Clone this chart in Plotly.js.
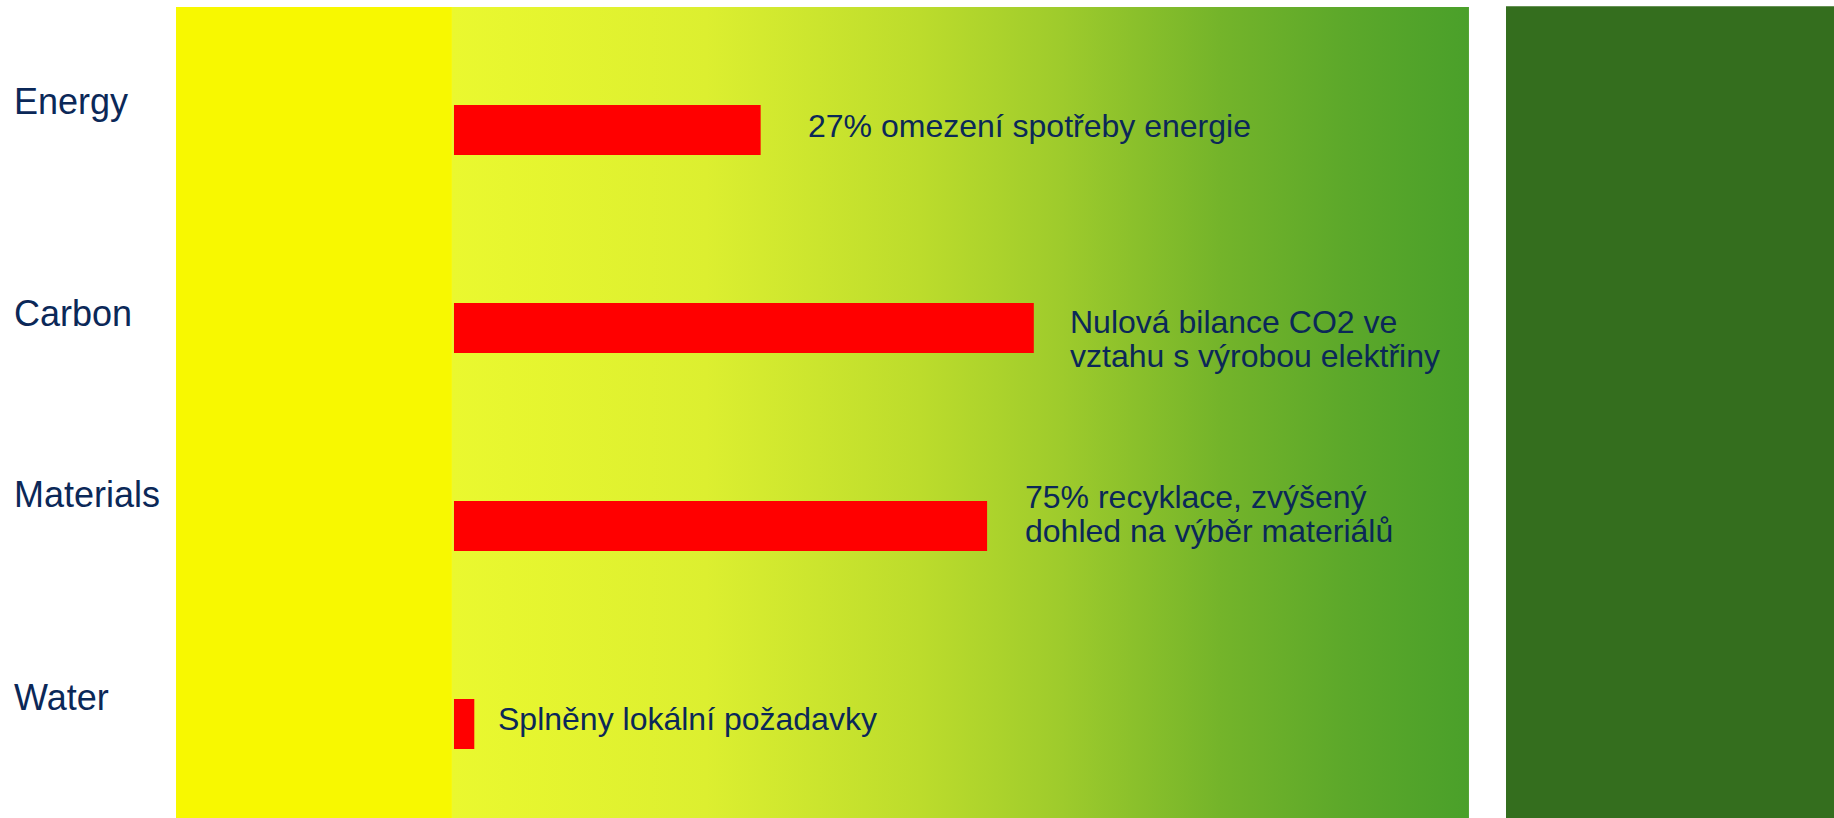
<!DOCTYPE html>
<html>
<head>
<meta charset="utf-8">
<script src="https://cdn.plot.ly/plotly-3.0.1.min.js"></script>
<style>
  html, body { margin: 0; padding: 0; background: #ffffff; }
  #chart { width: 1834px; height: 818px; }
</style>
</head>
<body>
<div id="chart"></div>
<script>
// ---- data ----
const categories = ['Energy', 'Carbon', 'Materials', 'Water'];
const values = [30.2, 57.1, 52.5, 2.0];
const notes = [
  '27% omezení spotřeby energie',
  'Nulová bilance CO2 ve<br>vztahu s výrobou elektřiny',
  '75% recyklace, zvýšený<br>dohled na výběr materiálů',
  'Splněny lokální požadavky'
];

// ---- layout parameters (positions / styles) ----
const textColor = '#0b2858';
const fontFamily = '"Liberation Sans", Arial, sans-serif';
const labelShiftY = [28, 14, 31, 26];        // category label offsets (px)
const noteShiftX = [45, 34, 36, 22];         // gap between bar end and note (px)
const noteShiftY = [4, -11, 12, 5];          // note block offsets (px)
const noteLineGap = 34.5;

const gradStops = [
  [0.00, '#eaf82f'],
  [0.25, '#dcef30'],
  [0.46, '#bcdc2c'],
  [0.60, '#9ecb2c'],
  [0.755, '#74b42a'],
  [0.88, '#5ca82a'],
  [1.00, '#4aa02a']
];
const svg = "<svg xmlns='http://www.w3.org/2000/svg' width='200' height='20' preserveAspectRatio='none'>" +
  "<defs><linearGradient id='g' x1='0' y1='0' x2='1' y2='0'>" +
  gradStops.map(s => "<stop offset='" + s[0] + "' stop-color='" + s[1] + "'/>").join('') +
  "</linearGradient></defs><rect width='200' height='20' fill='url(#g)'/></svg>";
const gradSrc = 'data:image/svg+xml;charset=utf-8,' + encodeURIComponent(svg);

const trace = {
  type: 'bar',
  orientation: 'h',
  y: categories,
  x: values,
  base: 0,
  width: 0.2525,
  marker: { color: '#ff0000', line: { width: 0 } },
  hoverinfo: 'skip'
};

const annotations = [];
categories.forEach((c, i) => {
  annotations.push({
    xref: 'paper', yref: 'y',
    x: (12 - 176) / 1658, y: c,
    xanchor: 'left', yanchor: 'middle',
    yshift: labelShiftY[i],
    text: c, showarrow: false,
    font: { family: fontFamily, size: 36, color: textColor }
  });
  const lines = notes[i].split('<br>');
  const n = lines.length;
  lines.forEach((ln, j) => {
    annotations.push({
      xref: 'x', yref: 'y',
      x: values[i], y: c,
      xanchor: 'left', yanchor: 'middle',
      xshift: noteShiftX[i],
      yshift: noteShiftY[i] + ((n - 1) / 2 - j) * noteLineGap,
      text: ln, showarrow: false,
      font: { family: fontFamily, size: 32, color: textColor }
    });
  });
});

const layout = {
  width: 1834, height: 818,
  margin: { l: 176, r: 0, t: 7, b: 0, pad: 0 },
  paper_bgcolor: '#ffffff',
  plot_bgcolor: '#ffffff',
  showlegend: false,
  xaxis: {
    range: [-27.375, 135.9],
    showgrid: false, zeroline: false, showticklabels: false, showline: false, ticks: ''
  },
  yaxis: {
    type: 'category',
    categoryorder: 'array', categoryarray: categories,
    range: [3.475, -0.621],
    showgrid: false, zeroline: false, showticklabels: false, showline: false, ticks: ''
  },
  shapes: [
    { type: 'rect', xref: 'x', yref: 'paper', x0: -27.375, x1: -0.2, y0: 0, y1: 1,
      fillcolor: '#f8f800', line: { width: 0 }, layer: 'below' },
    { type: 'rect', xref: 'x', yref: 'paper', x0: 103.6, x1: 136, y0: 0, y1: 1.001,
      fillcolor: '#346e1e', line: { width: 0 }, layer: 'below' }
  ],
  images: [
    { source: gradSrc, xref: 'x', yref: 'paper', x: -0.2, y: 1, sizex: 100.15, sizey: 1,
      xanchor: 'left', yanchor: 'top', sizing: 'stretch', layer: 'below' }
  ],
  annotations: annotations
};

Plotly.newPlot('chart', [trace], layout, { displayModeBar: false, staticPlot: true });
</script>
</body>
</html>
